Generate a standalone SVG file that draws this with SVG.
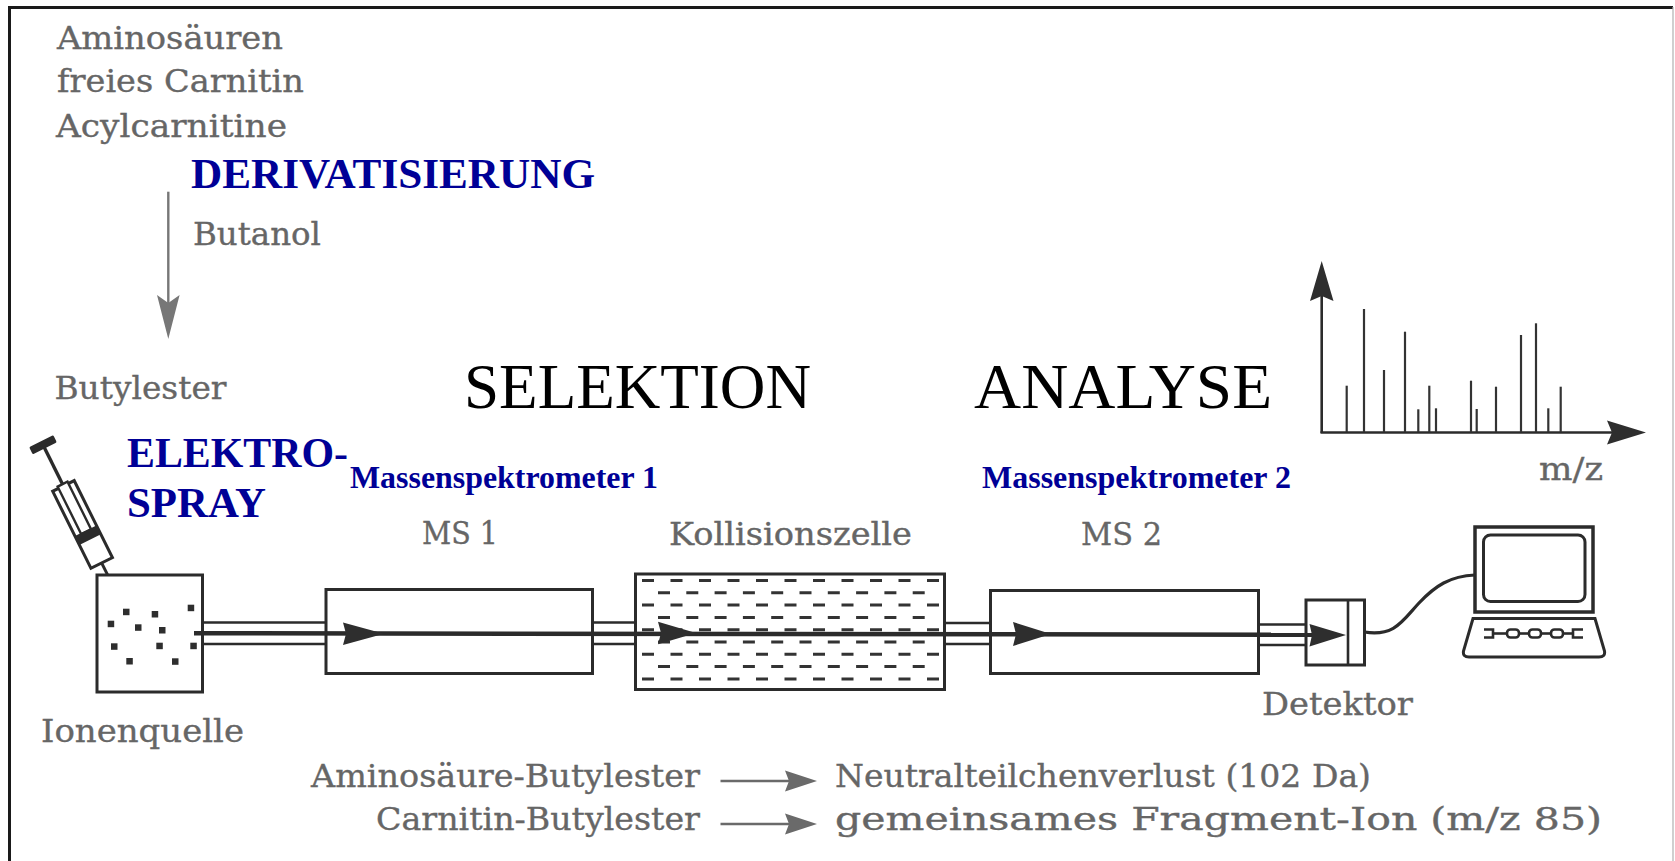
<svg xmlns="http://www.w3.org/2000/svg" width="1675" height="861" viewBox="0 0 1675 861">
  <defs>
    <style>
      .lbl { font-family: "DejaVu Serif", "Liberation Serif", serif; font-size: 31px; fill: #666666; stroke: #666666; stroke-width: 0.35; }
      .blue { font-family: "Liberation Serif", "Times New Roman", serif; font-weight: bold; fill: #000096; }
      .big { font-family: "Liberation Serif", "Times New Roman", serif; font-size: 64px; fill: #000000; }
      .box { fill: #ffffff; stroke: #2b2b2b; stroke-width: 3; }
      .ln { stroke: #2b2b2b; stroke-width: 2.6; fill: none; }
      .beam { stroke: #2b2b2b; stroke-width: 4.5; fill: none; }
      .head { fill: #2e2e2e; stroke: none; }
      .gas { stroke: #333333; stroke-width: 3; fill: none; }
      .peak { stroke: #333333; stroke-width: 2.2; }
      .garrow { stroke: #6a6a6a; stroke-width: 2.6; fill: none; }
      .ghead { fill: #6a6a6a; }
    </style>
  </defs>

  <!-- page background and frame -->
  <rect x="0" y="0" width="1675" height="861" fill="#ffffff"/>
  <line x1="9" y1="7.5" x2="1673" y2="7.5" stroke="#1a1a1a" stroke-width="2.8"/>
  <line x1="9.5" y1="6" x2="9.5" y2="861" stroke="#1a1a1a" stroke-width="3"/>
  <line x1="1673" y1="7" x2="1673" y2="861" stroke="#b0b0b0" stroke-width="1.2"/>

  <!-- derivatisation step -->
  <g id="analyten">
    <text class="lbl" x="57" y="49" textLength="226" lengthAdjust="spacingAndGlyphs">Aminosäuren</text>
    <text class="lbl" x="57" y="92" textLength="247" lengthAdjust="spacingAndGlyphs">freies Carnitin</text>
    <text class="lbl" x="56" y="137" textLength="231" lengthAdjust="spacingAndGlyphs">Acylcarnitine</text>
  </g>
  <g id="derivatisierung">
    <text class="blue" x="191" y="188" font-size="42" textLength="404" lengthAdjust="spacingAndGlyphs">DERIVATISIERUNG</text>
    <text class="lbl" x="193" y="245" textLength="128" lengthAdjust="spacingAndGlyphs">Butanol</text>
  </g>
  <g id="butylester">
    <text class="lbl" x="54.5" y="399" textLength="172" lengthAdjust="spacingAndGlyphs">Butylester</text>
  </g>

  <!-- phase titles -->
  <g id="selektion">
    <text class="big" x="464" y="408" textLength="347" lengthAdjust="spacingAndGlyphs">SELEKTION</text>
  </g>
  <g id="analyse">
    <text class="big" x="974" y="408" textLength="298" lengthAdjust="spacingAndGlyphs">ANALYSE</text>
  </g>

  <!-- electrospray syringe and ion source -->
  <g id="elektrospray">
    <text class="blue" x="127" y="467" font-size="42" textLength="221" lengthAdjust="spacingAndGlyphs">ELEKTRO-</text>
    <text class="blue" x="127" y="517" font-size="42" textLength="139" lengthAdjust="spacingAndGlyphs">SPRAY</text>
    <g transform="translate(121.7,603.3) rotate(-26.4)">
      <line x1="0" y1="0" x2="0" y2="-46" stroke="#2b2b2b" stroke-width="3"/>
      <line x1="0" y1="-128" x2="0" y2="-176" stroke="#2b2b2b" stroke-width="3.4"/>
      <rect x="-12" y="-131" width="24" height="86" fill="#ffffff" stroke="#2b2b2b" stroke-width="3"/>
      <rect x="-5.5" y="-133" width="11" height="53" fill="#ffffff" stroke="#2b2b2b" stroke-width="2.4"/>
      <rect x="-12" y="-81" width="24" height="10" fill="#2b2b2b"/>
      <rect x="-13.5" y="-181" width="27" height="8" rx="1.5" fill="#2b2b2b"/>
    </g>
  </g>
  <g id="ionenquelle">
    <rect class="box" x="97" y="575" width="105.5" height="117"/>
    <g fill="#2e2e2e">
      <rect x="123" y="608.7" width="6.5" height="6.5"/>
      <rect x="151.7" y="611" width="6.5" height="6.5"/>
      <rect x="187.7" y="604.7" width="6.5" height="6.5"/>
      <rect x="107.7" y="620.7" width="6.5" height="6.5"/>
      <rect x="135" y="624.3" width="6.5" height="6.5"/>
      <rect x="159" y="627" width="6.5" height="6.5"/>
      <rect x="111" y="643.3" width="6.5" height="6.5"/>
      <rect x="156.3" y="642.7" width="6.5" height="6.5"/>
      <rect x="190.3" y="642.7" width="6.5" height="6.5"/>
      <rect x="126.3" y="658" width="6.5" height="6.5"/>
      <rect x="172" y="658.3" width="6.5" height="6.5"/>
    </g>
    <text class="lbl" x="41" y="742" textLength="203" lengthAdjust="spacingAndGlyphs">Ionenquelle</text>
  </g>

  <!-- first mass spectrometer -->
  <g id="ms1">
    <text class="blue" x="350" y="488" font-size="31" textLength="308" lengthAdjust="spacingAndGlyphs">Massenspektrometer 1</text>
    <text class="lbl" x="422" y="544" textLength="76" lengthAdjust="spacingAndGlyphs">MS 1</text>
    <rect class="box" x="326" y="589.5" width="266.5" height="84"/>
  </g>

  <!-- collision cell filled with gas -->
  <g id="kollisionszelle">
    <text class="lbl" x="669" y="545" textLength="243" lengthAdjust="spacingAndGlyphs">Kollisionszelle</text>
    <rect class="box" x="635.5" y="574" width="309" height="115.5"/>
    <g class="gas">
      <line x1="642" y1="580.5" x2="939" y2="580.5" stroke-dasharray="12 16.5"/>
      <line x1="658" y1="592.8" x2="926" y2="592.8" stroke-dasharray="12 16.3"/>
      <line x1="642" y1="605.1" x2="939" y2="605.1" stroke-dasharray="12 16.5"/>
      <line x1="658" y1="617.4" x2="926" y2="617.4" stroke-dasharray="12 16.3"/>
      <line x1="642" y1="629.7" x2="939" y2="629.7" stroke-dasharray="12 16.5"/>
      <line x1="658" y1="642" x2="926" y2="642" stroke-dasharray="12 16.3"/>
      <line x1="642" y1="654.3" x2="939" y2="654.3" stroke-dasharray="12 16.5"/>
      <line x1="658" y1="666.6" x2="926" y2="666.6" stroke-dasharray="12 16.3"/>
      <line x1="642" y1="678.9" x2="939" y2="678.9" stroke-dasharray="12 16.5"/>
    </g>
  </g>

  <!-- second mass spectrometer -->
  <g id="ms2">
    <text class="blue" x="982" y="488" font-size="31" textLength="309" lengthAdjust="spacingAndGlyphs">Massenspektrometer 2</text>
    <text class="lbl" x="1081" y="545" textLength="81" lengthAdjust="spacingAndGlyphs">MS 2</text>
    <rect class="box" x="990.5" y="590.5" width="268" height="83"/>
  </g>

  <!-- detector -->
  <g id="detektor">
    <rect class="box" x="1306" y="600" width="58.5" height="65"/>
    <line class="ln" x1="1348" y1="600" x2="1348" y2="665" stroke-width="2.8"/>
    <text class="lbl" x="1262" y="715" textLength="151" lengthAdjust="spacingAndGlyphs">Detektor</text>
  </g>

  <!-- computer -->
  <g id="computer">
    <rect x="1475" y="527" width="118" height="85" fill="#ffffff" stroke="#2b2b2b" stroke-width="3.5"/>
    <rect x="1483.5" y="535" width="101.5" height="66.5" rx="7" fill="#ffffff" stroke="#2b2b2b" stroke-width="3"/>
    <path d="M1473,618.5 L1595,618.5 L1604.5,651 Q1605.5,657 1599,657 L1469,657 Q1462.5,657 1463.5,651 Z" fill="#ffffff" stroke="#2b2b2b" stroke-width="3"/>
    <g fill="none" stroke="#2b2b2b" stroke-width="2.6">
      <path d="M1484,629.5 h9 v8 h-9"/>
      <line x1="1493" y1="633.5" x2="1507" y2="633.5"/>
      <rect x="1507" y="629.5" width="12" height="8" rx="3.5"/>
      <line x1="1519" y1="633.5" x2="1529" y2="633.5"/>
      <rect x="1529" y="629.5" width="12" height="8" rx="3.5"/>
      <line x1="1541" y1="633.5" x2="1551" y2="633.5"/>
      <rect x="1551" y="629.5" width="12" height="8" rx="3.5"/>
      <line x1="1563" y1="633.5" x2="1573" y2="633.5"/>
      <path d="M1583,629.5 h-10 v8 h10"/>
    </g>
  </g>

  <!-- mass spectrum -->
  <g id="spektrum">
    <line class="ln" x1="1321.7" y1="290" x2="1321.7" y2="433"/>
    <line class="ln" x1="1320.5" y1="432.5" x2="1615" y2="432.5"/>
    <path class="head" d="M1321.7,261 L1333.5,301 L1321.7,296 L1310,301 Z"/>
    <path class="head" d="M1646,432.5 L1607,444.5 L1612,432.5 L1607,420.5 Z"/>
    <g class="peak">
      <line x1="1346.7" y1="385.7" x2="1346.7" y2="432"/>
      <line x1="1364" y1="309" x2="1364" y2="432"/>
      <line x1="1384" y1="370" x2="1384" y2="432"/>
      <line x1="1405" y1="331.7" x2="1405" y2="432"/>
      <line x1="1418.3" y1="409.3" x2="1418.3" y2="432"/>
      <line x1="1429.3" y1="385.7" x2="1429.3" y2="432"/>
      <line x1="1436" y1="408.3" x2="1436" y2="432"/>
      <line x1="1471" y1="380.7" x2="1471" y2="432"/>
      <line x1="1476.7" y1="409" x2="1476.7" y2="432"/>
      <line x1="1496" y1="386.7" x2="1496" y2="432"/>
      <line x1="1521" y1="335" x2="1521" y2="432"/>
      <line x1="1536" y1="323.3" x2="1536" y2="432"/>
      <line x1="1548.3" y1="408.3" x2="1548.3" y2="432"/>
      <line x1="1560.7" y1="386.7" x2="1560.7" y2="432"/>
    </g>
    <text class="lbl" x="1539" y="480" textLength="64" lengthAdjust="spacingAndGlyphs">m/z</text>
  </g>

  <!-- ion beam, derivatisation arrow, cable -->
  <g id="connectors">
    <line x1="168.3" y1="191.7" x2="168.3" y2="304" stroke="#777777" stroke-width="2.4"/>
    <path d="M168.3,339 L157,295 L168.3,303 L179.6,295 Z" fill="#777777"/>

    <g class="ln">
      <line x1="202.5" y1="622.5" x2="326" y2="622.5"/>
      <line x1="202.5" y1="644" x2="326" y2="644"/>
      <line x1="592.5" y1="622.5" x2="635.5" y2="622.5"/>
      <line x1="592.5" y1="644" x2="635.5" y2="644"/>
      <line x1="944.5" y1="623" x2="990.5" y2="623"/>
      <line x1="944.5" y1="644" x2="990.5" y2="644"/>
      <line x1="1258.5" y1="624.5" x2="1306" y2="624.5"/>
      <line x1="1258.5" y1="645" x2="1306" y2="645"/>
    </g>
    <line class="beam" x1="194" y1="633.2" x2="1320" y2="634.8"/>
    <path class="head" d="M384,633.8 L343,622.5 L346,633.8 L343,645 Z"/>
    <path class="head" d="M696,633 L658,621.7 L661,633 L658,644.3 Z"/>
    <path class="head" d="M1051,634 L1013,622 L1016,634 L1013,646 Z"/>
    <path class="head" d="M1346,635 L1309.5,624 L1312,635 L1309.5,646.5 Z"/>

    <path d="M1364.5,632 C1395,637 1403,620 1419,603 C1435,586 1450,576 1475,575" fill="none" stroke="#2b2b2b" stroke-width="3.2"/>
  </g>

  <!-- fragmentation legend -->
  <g id="legende">
    <text class="lbl" x="311" y="787" textLength="389" lengthAdjust="spacingAndGlyphs">Aminosäure-Butylester</text>
    <line class="garrow" x1="720.5" y1="781" x2="790" y2="781"/>
    <path class="ghead" d="M817,781 L785,770.5 L789,781 L785,791.5 Z"/>
    <text class="lbl" x="835" y="787" textLength="536" lengthAdjust="spacingAndGlyphs">Neutralteilchenverlust (102 Da)</text>

    <text class="lbl" x="376" y="830" textLength="324" lengthAdjust="spacingAndGlyphs">Carnitin-Butylester</text>
    <line class="garrow" x1="720.5" y1="824" x2="790" y2="824"/>
    <path class="ghead" d="M817,824 L785,813.5 L789,824 L785,834.5 Z"/>
    <text class="lbl" x="835" y="830" textLength="767" lengthAdjust="spacingAndGlyphs">gemeinsames Fragment-Ion (m/z 85)</text>
  </g>
</svg>
